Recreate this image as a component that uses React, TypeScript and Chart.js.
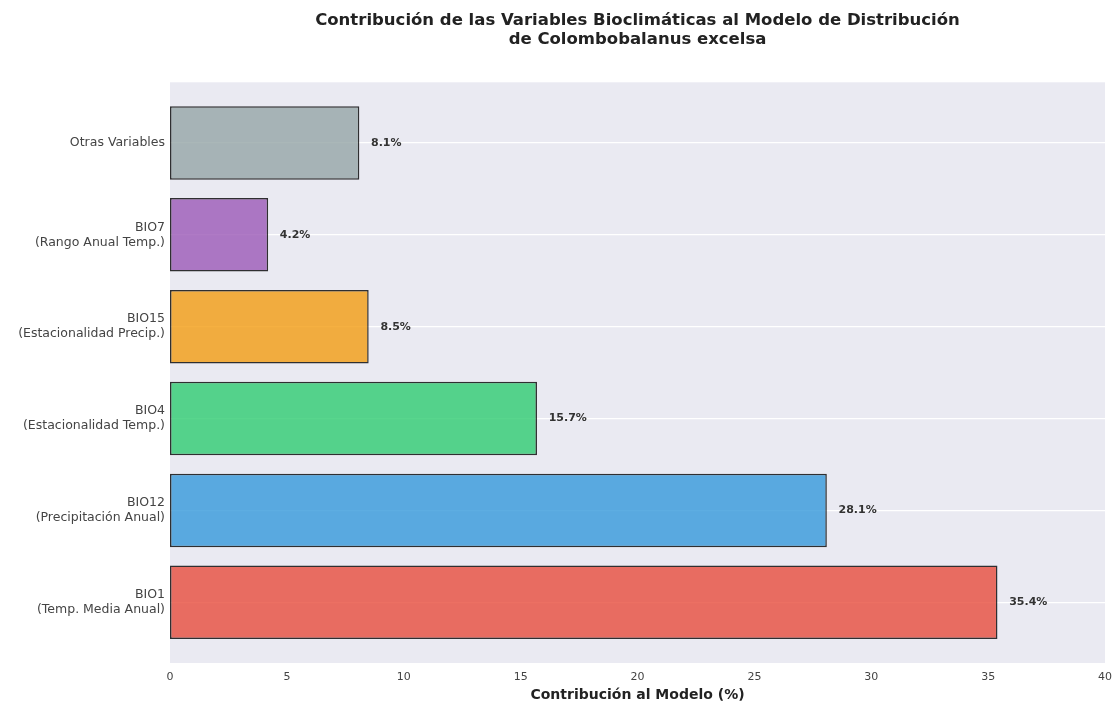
import React, { useEffect, useRef } from "react";
import { Chart, registerables } from "chart.js";

Chart.register(...registerables);

const categories: string[][] = [
  ["BIO1", "(Temp. Media Anual)"],
  ["BIO12", "(Precipitación Anual)"],
  ["BIO4", "(Estacionalidad Temp.)"],
  ["BIO15", "(Estacionalidad Precip.)"],
  ["BIO7", "(Rango Anual Temp.)"],
  ["Otras Variables"],
];
const contributions: number[] = [35.4, 28.1, 15.7, 8.5, 4.2, 8.1];
const barColors: string[] = [
  "rgba(231,76,60,0.8)",
  "rgba(52,152,219,0.8)",
  "rgba(46,204,113,0.8)",
  "rgba(243,156,18,0.8)",
  "rgba(155,89,182,0.8)",
  "rgba(149,165,166,0.8)",
];
const xTicks: number[] = [0, 5, 10, 15, 20, 25, 30, 35, 40];
const titleLines: string[] = [
  "Contribución de las Variables Bioclimáticas al Modelo de Distribución",
  "de Colombobalanus excelsa",
];
const xTitle = "Contribución al Modelo (%)";

const FONT = "'DejaVu Sans', sans-serif";

const bgPlugin = {
  id: "plotBg",
  beforeDraw(chart: any) {
    const { ctx, chartArea } = chart;
    ctx.save();
    ctx.fillStyle = "#EAEAF2";
    ctx.fillRect(chartArea.left, chartArea.top, chartArea.right - chartArea.left, chartArea.bottom - chartArea.top);
    ctx.restore();
  },
};

const valueLabelPlugin = {
  id: "valueLabels",
  afterDatasetsDraw(chart: any) {
    const { ctx, scales } = chart;
    ctx.save();
    ctx.font = `bold 11px ${FONT}`;
    ctx.fillStyle = "#333333";
    ctx.textAlign = "left";
    ctx.textBaseline = "middle";
    contributions.forEach((v, i) => {
      const x = scales.x.getPixelForValue(v + 0.5);
      const y = scales.y.getPixelForValue(i);
      ctx.fillText(`${v.toFixed(1)}%`, x, y);
    });
    ctx.restore();
  },
};

export default function App() {
  const ref = useRef<HTMLCanvasElement | null>(null);
  useEffect(() => {
    if (!ref.current) return;
    const chart = new Chart(ref.current, {
      type: "bar",
      data: {
        datasets: [
          {
            data: contributions.map((v, i) => ({ x: v, y: i })),
            backgroundColor: barColors,
            borderColor: "rgba(0,0,0,0.8)",
            borderWidth: 1.5,
            borderSkipped: false,
            barPercentage: 1,
            categoryPercentage: 0.8,
          } as any,
        ],
      },
      options: {
        indexAxis: "y",
        animation: false,
        responsive: false,
        maintainAspectRatio: false,
        layout: { padding: { left: 0, right: 7, top: 0, bottom: 0 } },
        plugins: {
          legend: { display: false },
          tooltip: { enabled: false },
          title: {
            display: true,
            text: titleLines,
            fullSize: false,
            color: "#222222",
            font: { family: FONT, size: 16.5, weight: "bold", lineHeight: 1.1 },
            padding: { top: 12, bottom: 34 },
          },
        },
        scales: {
          x: {
            type: "linear",
            min: 0,
            max: 40,
            offset: false,
            afterBuildTicks: (scale: any) => {
              scale.ticks = xTicks.map((v) => ({ value: v }));
            },
            afterFit: (scale: any) => {
              scale.height = 41;
              scale.paddingRight = 0;
              scale.paddingLeft = 0;
            },
            grid: { display: false, drawTicks: false },
            border: { display: false },
            ticks: {
              color: "#444444",
              padding: 8,
              font: { family: FONT, size: 11 },
              maxRotation: 0,
            },
            title: {
              display: true,
              text: xTitle,
              color: "#222222",
              font: { family: FONT, size: 14, weight: "bold", lineHeight: 1.2 },
              padding: { top: 2, bottom: 0 },
            },
          },
          y: {
            type: "linear",
            min: -0.66,
            max: 5.66,
            offset: false,
            afterBuildTicks: (scale: any) => {
              scale.ticks = categories.map((_, i) => ({ value: i }));
            },
            afterFit: (scale: any) => {
              scale.width = 170;
            },
            grid: { color: "#FFFFFF", lineWidth: 1.2, drawTicks: false, offset: false },
            border: { display: false },
            ticks: {
              color: "#444444",
              padding: 5,
              font: { family: FONT, size: 12.5, lineHeight: 1.2 },
              callback: (value: any) => categories[Math.round(Number(value))] ?? "",
            },
          },
        },
      },
      plugins: [bgPlugin, valueLabelPlugin],
    });
    return () => chart.destroy();
  }, []);
  return (
    <div style={{ position: "fixed", left: 0, top: 0, width: 1112, height: 704, background: "#FFFFFF" }}>
      <canvas ref={ref} width={1112} height={704} style={{ width: 1112, height: 704, display: "block" }} />
    </div>
  );
}
